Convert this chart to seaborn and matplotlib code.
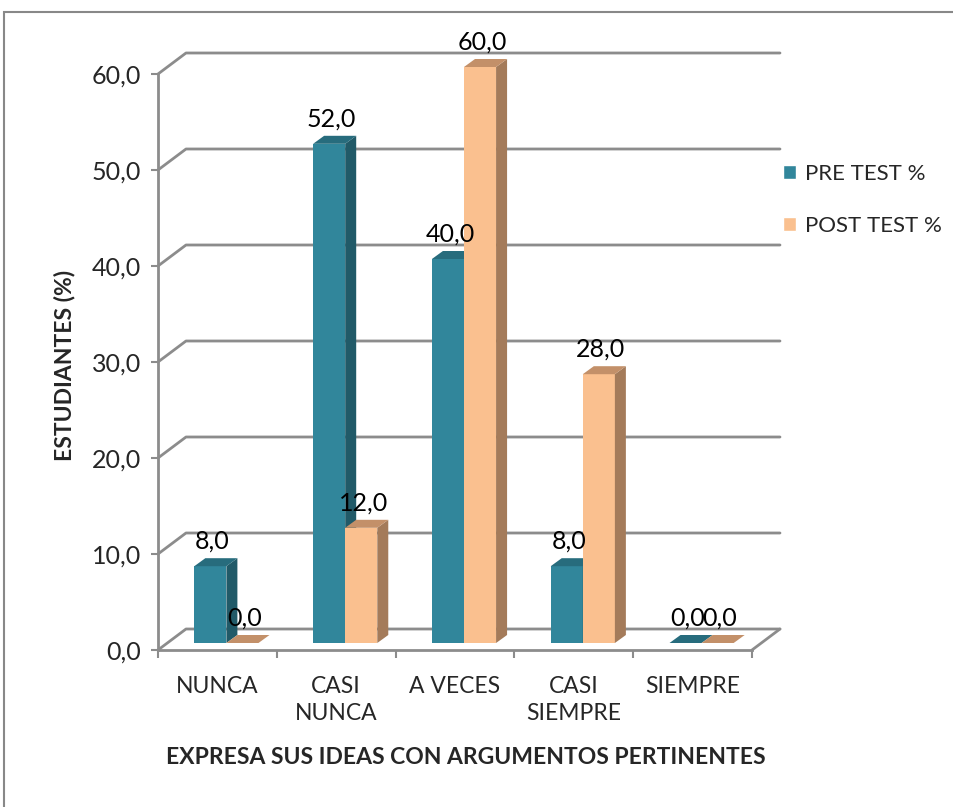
import pandas as pd
import matplotlib.pyplot as plt
import seaborn as sns
from matplotlib.patches import Polygon, Patch, Rectangle
from matplotlib.transforms import ScaledTranslation

categorias = ['NUNCA', 'CASI\nNUNCA', 'A VECES', 'CASI\nSIEMPRE', 'SIEMPRE']
pre_test = [8.0, 52.0, 40.0, 8.0, 0.0]
post_test = [0.0, 12.0, 60.0, 28.0, 0.0]
series = ['PRE TEST %', 'POST TEST %']
y_ticks = [0, 10, 20, 30, 40, 50, 60]

# colours: front, side, top
front = ['#31869B', '#FAC08F']
side = ['#215A68', '#A47B5A']
top = ['#276C7D', '#C39069']
grid_col = '#8C8C8C'

df = pd.DataFrame({
    'categoria': categorias * 2,
    'valor': pre_test + post_test,
    'serie': [series[0]] * len(categorias) + [series[1]] * len(categorias),
})

sns.set_style('white')
plt.rcParams['font.family'] = ['Lato', 'DejaVu Sans']

W, H = 954, 807
fig = plt.figure(figsize=(W / 100, H / 100), dpi=100)
ax = fig.add_axes([158 / W, 1 - 650 / H, 594 / W, 576 / H])

sns.barplot(data=df, x='categoria', y='valor', hue='serie', order=categorias,
            hue_order=series, palette=front, width=0.54, gap=0, saturation=1,
            legend=False, ax=ax)
ax.set_xlim(-0.5, len(categorias) - 0.5)
ax.set_ylim(0, 60)

# pixel -> data unit helpers
px_x = 594 / len(categorias)
px_y = 576 / 60.0
wall_dx, wall_dy = 28 / px_x, 21 / px_y      # back wall depth
bar_dx, bar_dy = 11 / px_x, 8 / px_y         # bar depth
shift = ax.transData + ScaledTranslation(9 / 100, 7 / 100, fig.dpi_scale_trans)

# back wall grid + left wall diagonals
x0, x1 = -0.5, len(categorias) - 0.5
for y in y_ticks:
    ax.plot([x0, x0 + wall_dx, x1 + wall_dx], [y, y + wall_dy, y + wall_dy],
            color=grid_col, lw=2, clip_on=False, zorder=0.5)
ax.plot([x1, x1 + wall_dx], [0, wall_dy], color=grid_col, lw=2, clip_on=False, zorder=0.5)

# 3d faces for the bars
for k, cont in enumerate(ax.containers):
    for p in cont:
        x, w, h = p.get_x(), p.get_width(), p.get_height()
        p.set_transform(shift)
        p.set_clip_on(False)
        p.set_edgecolor('none')
        p.set_zorder(3 + k)
        sd = Polygon([(x + w, 0), (x + w + bar_dx, bar_dy), (x + w + bar_dx, h + bar_dy), (x + w, h)],
                     closed=True, fc=side[k], ec='none', transform=shift, clip_on=False, zorder=3 + k)
        tp = Polygon([(x, h), (x + bar_dx, h + bar_dy), (x + w + bar_dx, h + bar_dy), (x + w, h)],
                     closed=True, fc=top[k], ec='none', transform=shift, clip_on=False, zorder=3 + k)
        ax.add_patch(sd)
        ax.add_patch(tp)
        ax.annotate(f'{h:.1f}'.replace('.', ','), xy=(x + w / 2, h), xytext=(11, 32),
                    textcoords='offset pixels', ha='center', va='center', fontsize=18,
                    color='black', zorder=10, annotation_clip=False)

# axes styling
sns.despine(ax=ax, top=True, right=True)
for s in ['left', 'bottom']:
    ax.spines[s].set_color(grid_col)
    ax.spines[s].set_linewidth(2)
ax.set_yticks(y_ticks)
ax.set_yticklabels([f'{v:.1f}'.replace('.', ',') for v in y_ticks])
ax.tick_params(axis='y', length=5, width=1.5, color=grid_col, pad=7, labelsize=18, left=True)
ax.set_xticks([i - 0.5 for i in range(len(categorias) + 1)])
ax.set_xticklabels([])
ax.tick_params(axis='x', which='major', length=6, width=1.5, color=grid_col, bottom=True)
ax.set_xticks(range(len(categorias)), minor=True)
ax.set_xticklabels(categorias, minor=True, fontsize=16.5, linespacing=1.35)
ax.tick_params(axis='x', which='minor', length=0, pad=19)
ax.set_xlabel('')
ax.set_ylabel('')
ax.patch.set_alpha(0)

fig.text(65 / W, 1 - 365 / H, 'ESTUDIANTES (%)', rotation=90, ha='center', va='center',
         fontsize=16.5, fontweight='bold')
fig.text(466 / W, 1 - 757 / H, 'EXPRESA SUS IDEAS CON ARGUMENTOS PERTINENTES',
         ha='center', va='center', fontsize=16.5, fontweight='bold')

handles = [Patch(facecolor=front[i], label=series[i]) for i in range(2)]
fig.legend(handles=handles, loc='center left', bbox_to_anchor=(783 / W, 1 - 200 / H),
           frameon=False, fontsize=16, handlelength=0.6, handleheight=0.6,
           handletextpad=0.4, labelspacing=1.45, borderpad=0, borderaxespad=0)

fig.add_artist(Rectangle((4 / W, -0.02), 1.1, 1.02 - 12 / H, transform=fig.transFigure,
                         fill=False, ec='#888888', lw=1.5))

fig.savefig('out.png', dpi=100)
